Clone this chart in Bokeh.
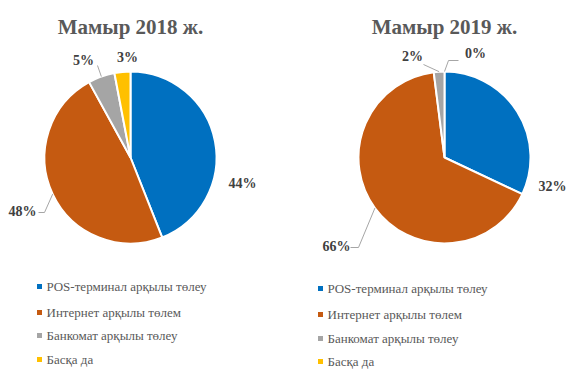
import math
from bokeh.plotting import figure
from bokeh.models import Range1d, ColumnDataSource
from bokeh.core.properties import value
from bokeh.embed import file_html
from bokeh.resources import INLINE

categories = ["POS-терминал арқылы төлеу", "Интернет арқылы төлем", "Банкомат арқылы төлеу", "Басқа да"]
colors = ["#0070C0", "#C55A11", "#A5A5A5", "#FFC000"]
titles = ["Мамыр 2018 ж.", "Мамыр 2019 ж."]
values_2018 = [44, 48, 5, 3]
values_2019 = [32, 66, 2, 0]

W, H = 570, 372

def Y(yp):
    return H - yp

p = figure(width=W, height=H, x_range=Range1d(0, W), y_range=Range1d(0, H),
           output_backend="svg", toolbar_location=None, x_axis_location=None, y_axis_location=None,
           min_border=0, outline_line_color=None)
p.grid.visible = False

# layout (page pixel coordinates)
pies = [
    dict(vals=values_2018, title=titles[0], cx=130, cy=157, r=86, tx=130, ty=26,
         labels=[(242, 183), (22, 211), (83, 60), (127, 57)],
         leaders=[None, [(38, 212), (44, 212)], [(97, 65)], None],
         lx=39, ly=[286, 312, 335, 359]),
    dict(vals=values_2019, title=titles[1], cx=444, cy=157, r=86, tx=444, ty=26,
         labels=[(552, 186), (336, 246), (412, 56), (475, 53)],
         leaders=[None, [(350, 247), (358, 247)], [(423, 64)], [(458, 60), (448, 60)]],
         lx=320, ly=[288, 314, 338, 361]),
]

for pie in pies:
    vals = pie["vals"]
    total = float(sum(vals))
    cum = 0.0
    xs, ys, st, en, cols = [], [], [], [], []
    mids = []
    for v, c in zip(vals, colors):
        f0 = cum / total
        f1 = (cum + v) / total
        cum += v
        mids.append((f0 + f1) / 2)
        if v <= 0:
            continue
        xs.append(pie["cx"]); ys.append(Y(pie["cy"]))
        st.append(math.pi / 2 - 2 * math.pi * f1)
        en.append(math.pi / 2 - 2 * math.pi * f0)
        cols.append(c)
    src = ColumnDataSource(dict(x=xs, y=ys, s=st, e=en, c=cols))
    p.wedge(x="x", y="y", radius=pie["r"], start_angle="s", end_angle="e", direction="anticlock",
            fill_color="c", line_color="white", line_width=2, source=src)

    for m, ld in zip(mids, pie["leaders"]):
        if ld is None:
            continue
        th = 2 * math.pi * m
        ax = pie["cx"] + pie["r"] * math.sin(th)
        ay = pie["cy"] - pie["r"] * math.cos(th)
        pts = ld + [(ax, ay)]
        p.line([q[0] for q in pts], [Y(q[1]) for q in pts], line_color="#A6A6A6", line_width=1)

    texts = [f"{round(v)}%" for v in vals]
    p.text(x=[q[0] for q in pie["labels"]], y=[Y(q[1]) for q in pie["labels"]], text=texts,
           text_font=value("Liberation Serif"), text_font_size="14px", text_font_style="bold",
           text_color="#404040", text_align="center", text_baseline="middle")

    p.text(x=[pie["tx"]], y=[Y(pie["ty"])], text=[pie["title"]],
           text_font=value("Liberation Serif"), text_font_size="21px", text_font_style="bold",
           text_color="#595959", text_align="center", text_baseline="middle")

    p.scatter(x=[pie["lx"]] * 4, y=[Y(v) for v in pie["ly"]], marker="square", size=5,
              fill_color=colors, line_color=None)
    p.text(x=[pie["lx"] + 7] * 4, y=[Y(v) for v in pie["ly"]], text=categories,
           text_font=value("Liberation Serif"), text_font_size="13px",
           text_color="#595959", text_align="left", text_baseline="middle")

open("out.html", "w").write(file_html(p, INLINE))
